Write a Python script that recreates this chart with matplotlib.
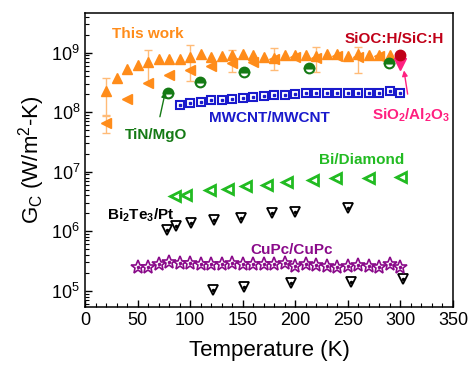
import numpy as np
import matplotlib
matplotlib.use("Agg")
import matplotlib.pyplot as plt
from matplotlib.ticker import MultipleLocator, LogLocator

plt.rcParams['font.family'] = ['Liberation Sans', 'DejaVu Sans']
plt.rcParams['mathtext.fontset'] = 'custom'
plt.rcParams['mathtext.rm'] = 'Liberation Sans'
plt.rcParams['mathtext.it'] = 'Liberation Sans:italic'
plt.rcParams['mathtext.bf'] = 'Liberation Sans:bold'

# This work (up triangles)
tw_T = [20, 30, 40, 50, 60, 70, 80, 90, 100, 110, 120, 130, 140, 150, 160, 170,
        180, 190, 200, 210, 220, 230, 240, 250, 260, 270, 280, 290]
tw_G = [2.3e8, 3.7e8, 5.3e8, 6.2e8, 7.1e8, 7.7e8, 7.7e8, 7.7e8, 8.4e8, 9.5e8, 8.6e8, 8.8e8,
        9.0e8, 9.5e8, 9.2e8, 8.4e8, 8.1e8, 9.2e8, 9.2e8, 9.0e8, 8.8e8, 9.6e8, 9.6e8, 8.8e8,
        9.6e8, 9.2e8, 9.2e8, 9.2e8]
# error bars on some of them
tw_errT = [20, 60, 100, 140, 180, 220, 260]
tw_errG = [2.3e8, 7.1e8, 8.4e8, 8.0e8, 8.5e8, 8.7e8, 8.6e8]
tw_err = [1.4e8, 4.0e8, 5.0e8, 3.2e8, 3.4e8, 3.9e8, 4.0e8]

# This work (left triangles)
tw2_T = [20, 40, 60, 80, 100, 120, 140, 160, 180, 200, 220, 240, 260, 280]
tw2_G = [6.5e7, 1.66e8, 3.1e8, 4.2e8, 5.1e8, 6.0e8, 6.6e8, 7.1e8, 7.7e8, 8.4e8, 8.0e8,
         8.8e8, 8.6e8, 8.8e8]
tw2_err = [2.0e7]

# TiN/MgO
tin_T = [79, 109, 151, 213, 289]
tin_G = [2.1e8, 3.2e8, 4.8e8, 5.5e8, 6.8e8]

# MWCNT/MWCNT
mw_T = [90, 100, 110, 120, 130, 140, 150, 160, 170, 180, 190, 200, 210, 220, 230,
        240, 250, 260, 270, 280, 290, 300]
mw_G = [1.32e8, 1.45e8, 1.48e8, 1.6e8, 1.6e8, 1.65e8, 1.76e8, 1.82e8, 1.9e8, 1.94e8,
        1.94e8, 2.0e8, 2.07e8, 2.07e8, 2.14e8, 2.14e8, 2.14e8, 2.14e8, 2.14e8, 2.14e8,
        2.3e8, 2.14e8]

# Bi/Diamond
bid_T = [86, 96, 119, 136, 153, 173, 192, 217, 239, 270, 301]
bid_G = [3.9e6, 4.05e6, 4.9e6, 5.2e6, 5.75e6, 6.1e6, 6.6e6, 7.3e6, 7.8e6, 8.0e6, 8.3e6]

# Bi2Te3/Pt
bt_T = [78, 87, 101, 123, 148, 178, 200, 250]
bt_G = [1.07e6, 1.23e6, 1.36e6, 1.55e6, 1.7e6, 2.0e6, 2.13e6, 2.42e6]
bt2_T = [122, 151, 196, 253, 302]
bt2_G = [1.02e5, 1.17e5, 1.33e5, 1.4e5, 1.58e5]

# CuPc/CuPc
cu_T = [50, 60, 70, 80, 90, 100, 110, 120, 130, 140, 150, 160, 170, 180, 190, 200,
        210, 220, 230, 240, 250, 260, 270, 280, 290, 300]
cu_G = [2.47e5, 2.47e5, 2.77e5, 3.05e5, 2.88e5, 2.88e5, 2.8e5, 2.8e5, 2.8e5, 2.88e5,
        2.8e5, 2.8e5, 2.8e5, 2.8e5, 2.88e5, 2.6e5, 2.8e5, 2.7e5, 2.6e5, 2.5e5, 2.6e5,
        2.7e5, 2.6e5, 2.5e5, 2.8e5, 2.5e5]

# SiOC:H/SiC:H and SiO2/Al2O3
sioc_T, sioc_G = [300], [9.2e8]
sio2_T, sio2_G = [300], [6.5e8]

orange = '#ff8c1a'
orange_light = '#ffbb77'
dgreen = '#157a15'
blue = '#1a1acc'
bgreen = '#22bb22'
purple = '#8a0a8a'
dred = '#c00018'
pink = '#ff2080'

fig = plt.figure(figsize=(4.76, 3.70), dpi=100)
ax = fig.add_axes([0.1786, 0.171, 0.773, 0.7947])

# error bars first
ax.errorbar(tw_errT, tw_errG, yerr=tw_err, fmt='none', ecolor=orange_light, elinewidth=1,
            capsize=3, capthick=1, zorder=1)
ax.errorbar(tw2_T[:1], tw2_G[:1], yerr=tw2_err, fmt='none', ecolor=orange_light, elinewidth=1,
            capsize=3, capthick=1, zorder=1)

ax.plot(tw_T, tw_G, '^', color=orange, ms=7.5, mec=orange, zorder=3)
ax.plot(tw2_T, tw2_G, '<', color=orange, ms=7.5, mec=orange, zorder=3)

ax.plot(tin_T, tin_G, 'o', ms=7, mec=dgreen, mfc=dgreen, mew=1.5,
        fillstyle='top', markerfacecoloralt='white', zorder=3)

ax.plot(mw_T, mw_G, 's', ms=6, mec=blue, mfc='white', mew=1.5, zorder=3)
ax.plot(mw_T, mw_G, 's', ms=1.8, mec=blue, mfc=blue, zorder=4)

ax.plot(bid_T, bid_G, '<', ms=7.5, mec=bgreen, mfc='white', mew=2, zorder=3)

ax.plot(bt_T, bt_G, 'v', ms=7.5, mec='black', mfc='white', mew=1.3, zorder=3)
ax.plot(bt_T, bt_G, 'o', ms=1.5, mec='black', mfc='black', zorder=4)
ax.plot(bt2_T, bt2_G, 'v', ms=7.5, mec='black', mfc='white', mew=1.3, zorder=3)
ax.plot(bt2_T, bt2_G, 'o', ms=1.5, mec='black', mfc='black', zorder=4)

ax.plot(cu_T, cu_G, '*', ms=10, mec=purple, mfc='white', mew=1.2, zorder=3)
ax.plot(cu_T, cu_G, 'o', ms=1.5, mec=purple, mfc=purple, zorder=4)

ax.plot(sio2_T, sio2_G, 'v', ms=8, color=pink, zorder=5)
ax.plot(sioc_T, sioc_G, 'o', ms=7.5, color=dred, zorder=5)

# labels
fs = 11
ax.text(60, 2.1e9, 'This work', color=orange, fontsize=fs, fontweight='bold', ha='center', va='center')
ax.text(294, 1.7e9, 'SiOC:H/SiC:H', color=dred, fontsize=fs, fontweight='bold', ha='center', va='center')
ax.text(175, 7.9e7, 'MWCNT/MWCNT', color=blue, fontsize=fs, fontweight='bold', ha='center', va='center')
ax.text(263, 1.55e7, 'Bi/Diamond', color=bgreen, fontsize=fs, fontweight='bold', ha='center', va='center')
ax.text(53, 1.86e6, r'Bi$_\mathbf{2}$Te$_\mathbf{3}$/Pt', color='black', fontsize=fs,
        fontweight='bold', ha='center', va='center')
ax.text(197, 4.8e5, 'CuPc/CuPc', color=purple, fontsize=fs, fontweight='bold', ha='center', va='center')

ax.annotate('TiN/MgO', xy=(77, 2.45e8), xytext=(67.5, 4.2e7), color=dgreen, fontsize=fs,
            fontweight='bold', ha='center', va='center',
            arrowprops=dict(arrowstyle='-|>', color=dgreen, lw=1, shrinkA=6, shrinkB=2,
                            mutation_scale=8))
ax.annotate(r'SiO$_\mathbf{2}$/Al$_\mathbf{2}$O$_\mathbf{3}$', xy=(303, 5.6e8), xytext=(310, 8.9e7),
            color=pink, fontsize=fs, fontweight='bold', ha='center', va='center',
            arrowprops=dict(arrowstyle='-|>', color=pink, lw=1, shrinkA=7, shrinkB=2,
                            mutation_scale=8))

ax.set_yscale('log')
ax.set_xlim(0, 350)
ax.set_ylim(5.4e4, 4.7e9)
ax.xaxis.set_major_locator(MultipleLocator(50))
ax.xaxis.set_minor_locator(MultipleLocator(10))
ax.yaxis.set_major_locator(LogLocator(base=10, numticks=10))
ax.yaxis.set_minor_locator(LogLocator(base=10, subs=np.arange(2, 10), numticks=20))
ax.tick_params(which='both', direction='in', top=False, right=False, labelsize=13)
ax.tick_params(which='major', length=5, width=1)
ax.tick_params(which='minor', length=3, width=0.8)
for s in ax.spines.values():
    s.set_linewidth(1.1)

ax.set_xlabel('Temperature (K)', fontsize=16, labelpad=8)
ax.set_ylabel(r'G$_\mathrm{C}$ (W/m$^2$-K)', fontsize=16, labelpad=3)

fig.savefig('out.png', dpi=100)
